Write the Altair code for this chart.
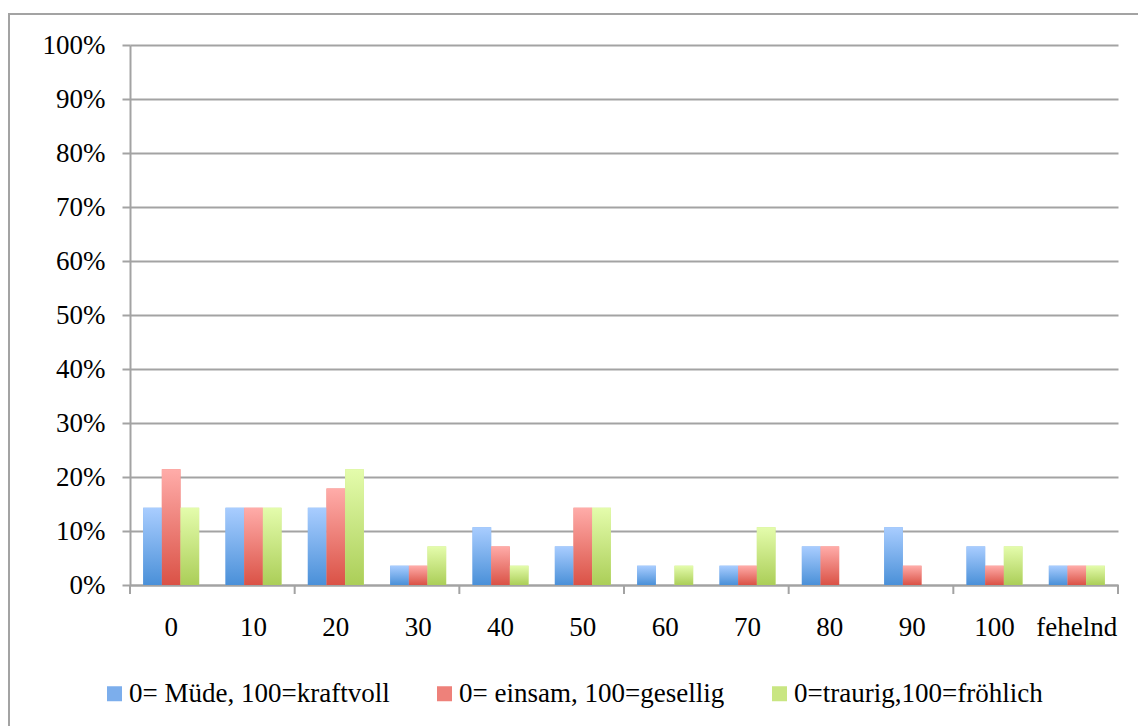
import altair as alt
import pandas as pd

# Categories on the x axis (scale points) and the three rated dimensions
categories = ["0", "10", "20", "30", "40", "50", "60", "70", "80", "90", "100", "fehelnd"]
series_names = [
    "0= Müde, 100=kraftvoll",
    "0= einsam, 100=gesellig",
    "0=traurig,100=fröhlich",
]

# Share of answers per category (fractions)
muede = [0.1429, 0.1429, 0.1429, 0.0357, 0.1071, 0.0714, 0.0357, 0.0357, 0.0714, 0.1071, 0.0714, 0.0357]
einsam = [0.2143, 0.1429, 0.1786, 0.0357, 0.0714, 0.1429, 0.0, 0.0357, 0.0714, 0.0357, 0.0357, 0.0357]
traurig = [0.1429, 0.1429, 0.2143, 0.0714, 0.0357, 0.1429, 0.0357, 0.1071, 0.0, 0.0, 0.0714, 0.0357]

y_ticks = [0.0, 0.1, 0.2, 0.3, 0.4, 0.5, 0.6, 0.7, 0.8, 0.9, 1.0]
tick_cats = ["0", "20", "40", "60", "80", "100"]

# Colours: legend swatches and bar gradients (top -> bottom)
legend_colors = ["#7CAEEC", "#EE817A", "#C9E682"]
gradient_stops = [
    ("#A9CDFF", "#4A90D8"),
    ("#FFACA9", "#DA5246"),
    ("#E4FCAC", "#ABCE58"),
]

rows = []
for name, vals in zip(series_names, [muede, einsam, traurig]):
    for c, v in zip(categories, vals):
        rows.append({"cat": c, "series": name, "value": v})
df = pd.DataFrame(rows)

W, H = 988, 540
FONT = "Liberation Serif, DejaVu Serif, serif"
GRAY = "#A3A3A3"

x_axis = alt.Axis(
    title=None, labelAngle=0, ticks=False, tickSize=0, grid=False,
    domainColor=GRAY, domainWidth=2,
    labelFont=FONT, labelFontSize=27, labelColor="#000000", labelPadding=29,
)
x_scale = alt.Scale(domain=categories, paddingInner=0, paddingOuter=0)


def x_enc(**kw):
    return alt.X("cat:N", sort=categories, scale=x_scale, axis=x_axis, **kw)


xo_enc = alt.XOffset(
    "series:N", sort=series_names,
    scale=alt.Scale(domain=series_names, paddingInner=0, paddingOuter=0.706),
)
y_enc = alt.Y(
    "value:Q",
    scale=alt.Scale(domain=[0, 1], nice=False),
    axis=alt.Axis(
        title=None, values=y_ticks, format=".0%",
        grid=True, gridColor=GRAY, gridWidth=2,
        domainColor=GRAY, domainWidth=2,
        tickColor=GRAY, tickWidth=2, tickSize=8,
        labelFont=FONT, labelFontSize=27, labelColor="#000000", labelPadding=17,
    ),
)

base = alt.Chart(df)

# Solid bars carry the legend; gradient bars are painted on top of them
legend_bars = base.mark_bar().encode(
    x=x_enc(), xOffset=xo_enc, y=y_enc,
    color=alt.Color(
        "series:N", sort=series_names,
        scale=alt.Scale(domain=series_names, range=legend_colors),
        legend=alt.Legend(
            orient="none", legendX=-29, legendY=635, direction="horizontal",
            title=None, symbolType="square", symbolSize=225, symbolStrokeWidth=0,
            labelFont=FONT, labelFontSize=27, labelColor="#000000",
            labelOffset=1, columnPadding=41, labelLimit=0, padding=0,
        ),
    ),
)

gradient_layers = []
for name, (top, bottom) in zip(series_names, gradient_stops):
    grad = alt.Gradient(
        gradient="linear", x1=0, x2=0, y1=0, y2=1,
        stops=[alt.GradientStop(color=top, offset=0), alt.GradientStop(color=bottom, offset=1)],
    )
    gradient_layers.append(
        base.transform_filter(alt.datum.series == name)
        .mark_bar(fill=grad)
        .encode(x=x_enc(), xOffset=xo_enc, y=y_enc)
    )

# Category tick marks below the axis, every second category plus the end
tick_df = pd.DataFrame({"cat": tick_cats})
ticks_left = alt.Chart(tick_df).mark_rule(color=GRAY, strokeWidth=2).encode(
    x=x_enc(bandPosition=0), y=alt.value(H), y2=alt.value(H + 9),
)
ticks_end = alt.Chart(pd.DataFrame({"cat": [categories[-1]]})).mark_rule(
    color=GRAY, strokeWidth=2
).encode(
    x=x_enc(bandPosition=1), y=alt.value(H), y2=alt.value(H + 9),
)

# Outer chart frame
frame = alt.Chart(alt.Data(values=[{}])).mark_rect(
    fill="transparent", stroke=GRAY, strokeWidth=2,
).encode(
    x=alt.value(-121), x2=alt.value(W + 60),
    y=alt.value(-31), y2=alt.value(H + 240),
)

chart = alt.layer(
    legend_bars, *gradient_layers, ticks_left, ticks_end, frame,
).properties(
    width=W, height=H,
    autosize=alt.AutoSizeParams(type="none"),
    padding={"left": 130, "top": 45, "right": 20, "bottom": 141},
    background="#FFFFFF",
).configure_view(
    stroke=None
).configure_legend(
    labelFont=FONT, labelFontSize=27, labelColor="#000000"
)

chart.save("out.html", embed_options={"renderer": "svg", "actions": False})
